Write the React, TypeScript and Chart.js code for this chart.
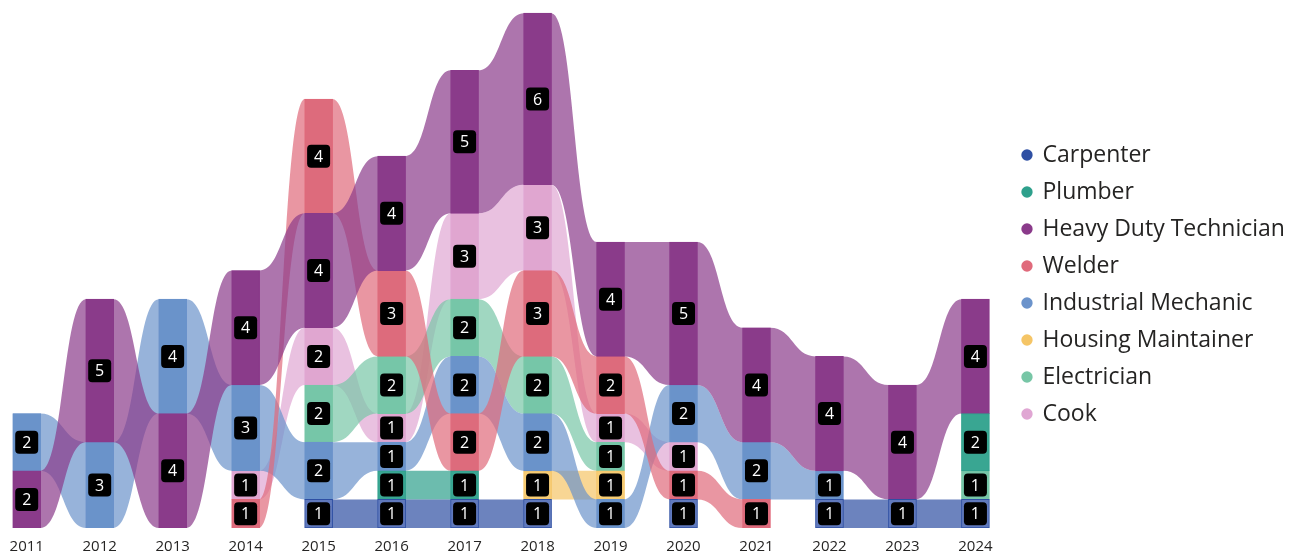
import React, { useEffect, useRef } from 'react';
import { Chart, registerables } from 'chart.js';

Chart.register(...registerables);

const years = ['2011', '2012', '2013', '2014', '2015', '2016', '2017', '2018', '2019', '2020', '2021', '2022', '2023', '2024'];
const categories = ['Carpenter', 'Plumber', 'Heavy Duty Technician', 'Welder', 'Industrial Mechanic', 'Housing Maintainer', 'Electrician', 'Cook'];

const carpenter = [null, null, null, null, 1, 1, 1, 1, null, 1, null, 1, 1, 1];
const plumber = [null, null, null, null, null, 1, 1, null, null, null, null, null, null, 2];
const heavyDutyTechnician = [2, 5, 4, 4, 4, 4, 5, 6, 4, 5, 4, 4, 4, 4];
const welder = [null, null, null, 1, 4, 3, 2, 3, 2, 1, 1, null, null, null];
const industrialMechanic = [2, 3, 4, 3, 2, 1, 2, 2, 1, 2, 2, 1, null, null];
const housingMaintainer = [null, null, null, null, null, null, null, 1, 1, null, null, null, null, null];
const electrician = [null, null, null, null, 2, 2, 2, 2, 1, null, null, null, null, 1];
const cook = [null, null, null, 1, 2, 1, 3, 3, 1, 1, null, null, null, null];

const seriesValues: (number | null)[][] = [carpenter, plumber, heavyDutyTechnician, welder, industrialMechanic, housingMaintainer, electrician, cook];

const legendColors = ['#2E4FA3', '#2EA08C', '#8A3A8A', '#E06A7B', '#6B93CB', '#F5C566', '#77C6A6', '#E0A6D3'];
const barColors = ['#6079BC', '#39A692', '#8A3B8A', '#DD6B7C', '#6A93CA', '#F7CC74', '#76C6A8', '#E0A6D0'];
const ribbonAlpha = 0.7;

const FONT = "'Segoe UI', 'Open Sans', sans-serif";
const HALF = 0.189;

function hexToRgba(hex: string, a: number) {
  const n = parseInt(hex.slice(1), 16);
  return `rgba(${(n >> 16) & 255},${(n >> 8) & 255},${n & 255},${a})`;
}

function computeStacks() {
  const low: (number | null)[][] = categories.map(() => years.map(() => null));
  const high: (number | null)[][] = categories.map(() => years.map(() => null));
  years.forEach((_, i) => {
    const present = categories.map((_, c) => c).filter((c) => seriesValues[c][i] != null);
    present.sort((a, b) => ((seriesValues[a][i] as number) - (seriesValues[b][i] as number)) || a - b);
    let acc = 0;
    for (const c of present) {
      low[c][i] = acc;
      acc += seriesValues[c][i] as number;
      high[c][i] = acc;
    }
  });
  return { low, high };
}

function ribbonPoints(arr: (number | null)[]) {
  const pts: { x: number; y: number | null }[] = [];
  arr.forEach((v, i) => {
    if (v == null) return;
    pts.push({ x: i - HALF, y: v }, { x: i + HALF, y: v });
    if (i < arr.length - 1 && arr[i + 1] == null) pts.push({ x: i + 0.5, y: null });
  });
  return pts;
}

const ribbonCurves = {
  id: 'ribbonCurves',
  afterDatasetsUpdate(chart: any) {
    chart.data.datasets.forEach((ds: any, di: number) => {
      if (ds.type !== 'line') return;
      const meta = chart.getDatasetMeta(di);
      const line = meta.dataset;
      if (!line) return;
      line.updateControlPoints(chart.chartArea, 'x');
      const pts = meta.data;
      for (let k = 0; k < pts.length - 1; k++) {
        const a = pts[k];
        const b = pts[k + 1];
        if (a.skip || b.skip) continue;
        const mx = (a.x + b.x) / 2;
        a.cp2x = mx;
        a.cp2y = a.y;
        b.cp1x = mx;
        b.cp1y = b.y;
      }
    });
  },
};

const valueLabels = {
  id: 'valueLabels',
  afterDatasetsDraw(chart: any) {
    const ctx = chart.ctx;
    chart.data.datasets.forEach((ds: any, di: number) => {
      if (ds.type !== 'bar') return;
      const meta = chart.getDatasetMeta(di);
      meta.data.forEach((el: any, k: number) => {
        const raw = ds.data[k];
        const v = raw.y[1] - raw.y[0];
        const cx = el.x;
        const cy = (el.y + el.base) / 2;
        ctx.save();
        ctx.fillStyle = '#000000';
        ctx.beginPath();
        ctx.roundRect(cx - 11.5, cy - 11.5, 23, 23, 4);
        ctx.fill();
        ctx.fillStyle = '#ffffff';
        ctx.font = `16px ${FONT}`;
        ctx.textAlign = 'center';
        ctx.textBaseline = 'middle';
        ctx.fillText(String(v), cx, cy + 1);
        ctx.restore();
      });
    });
  },
};

export default function App() {
  const ref = useRef<HTMLCanvasElement>(null);
  useEffect(() => {
    document.body.style.margin = '0';
    const { low, high } = computeStacks();
    const lineDatasets: any[] = [];
    categories.forEach((name, c) => {
      lineDatasets.push({
        type: 'line',
        label: name + ' base',
        data: ribbonPoints(low[c]),
        borderWidth: 0,
        pointRadius: 0,
        pointHoverRadius: 0,
        pointHitRadius: 0,
        fill: false,
        tension: 0.4,
        spanGaps: false,
        order: 2,
      });
      lineDatasets.push({
        type: 'line',
        label: name + ' ribbon',
        data: ribbonPoints(high[c]),
        borderWidth: 0,
        pointRadius: 0,
        pointHoverRadius: 0,
        pointHitRadius: 0,
        backgroundColor: hexToRgba(legendColors[c], ribbonAlpha),
        fill: '-1',
        tension: 0.4,
        spanGaps: false,
        order: 2,
      });
    });
    const barDatasets: any[] = categories.map((name, c) => ({
      type: 'bar',
      label: name,
      data: years
        .map((_, i) => (seriesValues[c][i] != null ? { x: i, y: [low[c][i], high[c][i]] } : null))
        .filter((d) => d != null),
      backgroundColor: barColors[c],
      borderColor: legendColors[c],
      borderWidth: 1,
      borderSkipped: false,
      barThickness: 28,
      grouped: false,
      order: 0,
    }));

    const chart = new Chart(ref.current as HTMLCanvasElement, {
      type: 'bar',
      data: { datasets: [...lineDatasets, ...barDatasets] },
      options: {
        responsive: false,
        animation: false,
        events: [],
        layout: { padding: 0, autoPadding: false },
        scales: {
          x: {
            type: 'linear',
            offset: false,
            min: -0.366,
            max: 13.46,
            grid: { display: false, drawTicks: true, tickLength: 11 },
            border: { display: false },
            afterBuildTicks: (axis: any) => {
              axis.ticks = years.map((_, i) => ({ value: i }));
            },
            ticks: {
              autoSkip: false,
              maxRotation: 0,
              padding: 0,
              color: '#252423',
              font: { family: FONT, size: 15, lineHeight: 1 },
              callback: (v: any) => years[v] ?? '',
            },
          },
          y: { display: false, min: 0, max: 18.46 },
        },
        plugins: {
          tooltip: { enabled: false },
          legend: {
            position: 'right',
            maxWidth: 280,
            onClick: () => {},
            title: { display: true, text: '', font: { size: 15, lineHeight: 1 }, padding: 0 },
            labels: {
              usePointStyle: true,
              boxWidth: 8,
              boxHeight: 8,
              padding: 14,
              color: '#252423',
              font: { family: FONT, size: 23 },
              generateLabels: () =>
                categories.map((name, c) => ({
                  text: name,
                  fillStyle: legendColors[c],
                  strokeStyle: legendColors[c],
                  lineWidth: 0,
                  pointStyle: 'circle',
                  hidden: false,
                  fontColor: '#252423',
                  datasetIndex: lineDatasets.length + c,
                })),
            },
          },
        },
      } as any,
      plugins: [ribbonCurves, valueLabels],
    });
    return () => chart.destroy();
  }, []);
  return <canvas ref={ref} width={1289} height={554} style={{ display: 'block' }} />;
}
